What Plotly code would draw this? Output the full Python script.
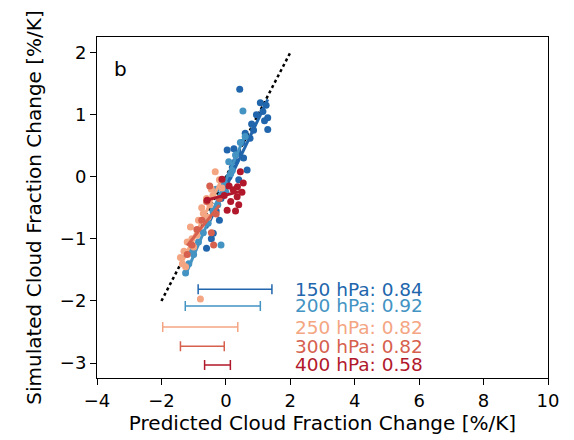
import numpy as np
import plotly.graph_objects as go

levels = ["150 hPa", "200 hPa", "250 hPa", "300 hPa", "400 hPa"]
colors = ["#2166ac", "#4393c3", "#f4a582", "#d6604d", "#b2182b"]
corr = [0.84, 0.92, 0.82, 0.82, 0.58]

x150 = [1.25, 1.15, 1.07, 1.30, 1.20, 1.30, 0.86, 0.75, 0.60, 0.50, 0.43, 0.66, 0.40, 0.30, 0.55,
        0.04, 0.20, 0.40, 0.10, -0.05, -0.15, -0.30, -0.20, -0.39, -0.45, -0.60, 0.00, 0.25, 0.80, 0.95]
y150 = [1.15, 1.05, 1.19, 0.95, 0.90, 0.76, 0.75, 0.62, 0.70, 0.55, 1.41, 0.11, 0.38, 0.25, 0.30,
        0.43, 0.15, -0.05, 0.00, -0.20, -0.35, -0.55, -0.70, -0.91, -1.00, -1.15, -0.10, 0.45, 0.85, 1.00]
x200 = [0.53, 0.09, 0.30, 0.15, 0.45, -0.05, -0.15, -0.25, -0.40, -0.55, -0.70, -0.85, -1.00, -1.15,
        -1.25, -0.15, 0.00, 0.20, -0.30, -0.60, 0.60, -1.05]
y200 = [1.06, 0.24, 0.35, 0.05, 0.55, -0.10, -0.30, -0.45, -0.55, -0.75, -0.90, -1.05, -1.25, -1.40,
        -1.55, -1.10, -0.25, 0.10, -0.20, -0.65, 0.65, -1.20]
x250 = [-0.33, -0.20, -0.12, -0.45, -0.60, -0.70, -0.50, -0.85, -1.10, -0.90, -1.20, -1.30, -1.41,
        -1.00, -1.25, -0.79, -0.40, -0.75, -1.05, -1.35, -0.55]
y250 = [0.08, -0.05, -0.18, -0.20, -0.35, -0.59, -0.45, -0.70, -0.81, -0.94, -1.05, -1.20, -1.30,
        -1.13, -1.45, -1.97, -0.30, -0.50, -1.00, -1.40, -0.65]
x300 = [-0.38, -0.50, -0.60, -0.20, -0.90, -1.05, -1.20, -0.30, -0.75, -0.45]
y300 = [-1.10, -0.15, -0.40, -0.35, -0.85, -1.10, -1.25, -0.60, -0.70, -0.90]
x400 = [0.04, 0.35, 0.23, 0.45, 0.54, 0.36, -0.12, -0.58, 0.15, 0.30, 0.50, 0.10, -0.05, 0.40]
y400 = [-0.54, -0.32, -0.21, 0.08, -0.10, -0.16, -0.04, -0.38, -0.40, -0.55, -0.25, -0.15, -0.30, -0.45]

xs = [x150, x200, x250, x300, x400]
ys = [y150, y200, y250, y300, y400]

bar_lo = [-0.86, -1.26, -1.96, -1.41, -0.66]
bar_hi = [1.43, 1.07, 0.37, -0.05, 0.14]
bar_y = [-1.81, -2.08, -2.42, -2.73, -3.03]
label_x = 2.07

one_to_one = [-2, 2]

xticks = [-4, -2, 0, 2, 4, 6, 8, 10]
yticks = [-3, -2, -1, 0, 1, 2]

fig = go.Figure()

fig.add_trace(go.Scatter(x=one_to_one, y=one_to_one, mode="lines",
                         line=dict(color="black", width=2.5, dash="dot"), showlegend=False))

for i in range(5):
    fig.add_trace(go.Scatter(x=xs[i], y=ys[i], mode="markers",
                             marker=dict(color=colors[i], size=7, line=dict(width=0)),
                             showlegend=False))
    coef = np.polyfit(xs[i], ys[i], 1)
    xl = np.array([min(xs[i]), max(xs[i])])
    fig.add_trace(go.Scatter(x=xl, y=np.polyval(coef, xl), mode="lines",
                             line=dict(color=colors[i], width=3), showlegend=False))

for i in range(5):
    c = (bar_lo[i] + bar_hi[i]) / 2
    h = (bar_hi[i] - bar_lo[i]) / 2
    fig.add_trace(go.Scatter(x=[c], y=[bar_y[i]], mode="markers",
                             marker=dict(size=0.1, color=colors[i], opacity=0),
                             error_x=dict(type="data", array=[h], color=colors[i],
                                          thickness=1.5, width=5),
                             showlegend=False))
    fig.add_annotation(x=label_x, y=bar_y[i], xref="x", yref="y",
                       text=f"{levels[i]}: {corr[i]:.2f}", showarrow=False,
                       xanchor="left", yanchor="middle",
                       font=dict(size=18.5, color=colors[i], family="DejaVu Sans"))

fig.add_annotation(x=0.033, y=0.907, xref="x domain", yref="y domain", text="b",
                   showarrow=False, xanchor="left", yanchor="middle",
                   font=dict(size=20, color="black", family="DejaVu Sans"))

axis_common = dict(showline=True, linecolor="black", linewidth=1, mirror=True,
                   ticks="outside", ticklen=6, tickwidth=1, tickcolor="black",
                   showgrid=False, zeroline=False, automargin=False,
                   tickfont=dict(size=18, color="black", family="DejaVu Sans"))

fig.update_xaxes(range=[-4, 10], tickvals=xticks, ticktext=[str(t).replace("-", "\u2212") for t in xticks],
                 title=dict(text="Predicted Cloud Fraction Change [%/K]",
                            font=dict(size=20, color="black", family="DejaVu Sans"), standoff=6),
                 **axis_common)
fig.update_yaxes(range=[-3.24, 2.25], tickvals=yticks, ticktext=[str(t).replace("-", "\u2212") for t in yticks],
                 title=dict(text="Simulated Cloud Fraction Change [%/K]",
                            font=dict(size=20, color="black", family="DejaVu Sans"), standoff=12),
                 **axis_common)

fig.update_layout(width=566, height=432, margin=dict(l=89, r=26, t=29, b=62, autoexpand=False),
                  plot_bgcolor="white", paper_bgcolor="white",
                  font=dict(family="DejaVu Sans"))

fig.write_html("out.html")
